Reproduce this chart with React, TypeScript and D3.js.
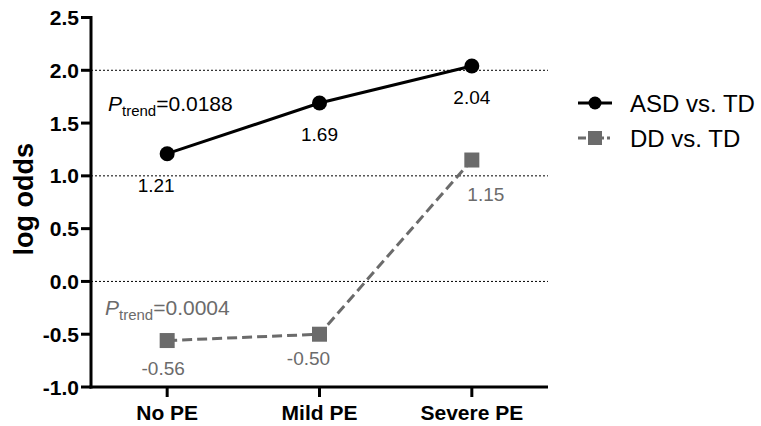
import React from "react";
import * as d3 from "d3";

const categories = ["No PE", "Mild PE", "Severe PE"];
const asdValues = [1.21, 1.69, 2.04];
const ddValues = [-0.56, -0.5, 1.15];
const yTicks = [-1.0, -0.5, 0.0, 0.5, 1.0, 1.5, 2.0, 2.5];
const gridValues = [0.0, 1.0, 2.0];
const seriesNames = ["ASD vs. TD", "DD vs. TD"];
const pTrends = ["0.0188", "0.0004"];

const W = 761;
const H = 426;
const FONT = "Liberation Sans, Arial, Helvetica, sans-serif";
const GRAY = "#6b6b6b";

export default function App() {
  const left = 91;
  const right = 548;
  const x = d3.scalePoint<string>().domain(categories).range([left, right]).padding(0.5);
  const y = d3.scaleLinear().domain([-1, 2.5]).range([387, 17.5]);
  const line = d3
    .line<number>()
    .x((_, i) => x(categories[i]) as number)
    .y((d) => y(d));

  const asdLabelOff = [
    [-11, 38],
    [0, 38],
    [0, 38],
  ];
  const ddLabelOff = [
    [-4, 34],
    [-11, 31],
    [14, 41],
  ];

  return (
    <svg width={W} height={H} style={{ position: "absolute", left: 0, top: 0, background: "#fff" }}>
      <rect width={W} height={H} fill="#fff" />
      {gridValues.map((g) => (
        <line
          key={g}
          x1={left}
          x2={right}
          y1={y(g)}
          y2={y(g)}
          stroke="#000"
          strokeWidth={1}
          strokeDasharray="2,2"
        />
      ))}
      <line x1={left} x2={left} y1={y(2.5) - 1.5} y2={y(-1) + 1.5} stroke="#000" strokeWidth={3} />
      <line x1={left - 1.5} x2={right} y1={y(-1)} y2={y(-1)} stroke="#000" strokeWidth={3} />
      {yTicks.map((t) => (
        <g key={t}>
          <line x1={left - 10} x2={left} y1={y(t)} y2={y(t)} stroke="#000" strokeWidth={3} />
          <text
            x={left - 12}
            y={y(t)}
            dy="0.36em"
            textAnchor="end"
            fontFamily={FONT}
            fontWeight="bold"
            fontSize={21}
          >
            {t.toFixed(1)}
          </text>
        </g>
      ))}
      {categories.map((c) => (
        <g key={c}>
          <line x1={x(c)} x2={x(c)} y1={y(-1)} y2={y(-1) + 10} stroke="#000" strokeWidth={3} />
          <text
            x={x(c)}
            y={y(-1) + 33}
            textAnchor="middle"
            fontFamily={FONT}
            fontWeight="bold"
            fontSize={21}
          >
            {c}
          </text>
        </g>
      ))}
      <text
        transform={`translate(33,${(y(2.5) + y(-1)) / 2 - 3}) rotate(-90)`}
        textAnchor="middle"
        fontFamily={FONT}
        fontWeight="bold"
        fontSize={27}
      >
        log odds
      </text>

      <path d={line(asdValues) || ""} fill="none" stroke="#000" strokeWidth={3} />
      {asdValues.map((v, i) => (
        <circle key={i} cx={x(categories[i])} cy={y(v)} r={7.5} fill="#000" />
      ))}
      {asdValues.map((v, i) => (
        <text
          key={"l" + i}
          x={(x(categories[i]) as number) + asdLabelOff[i][0]}
          y={y(v) + asdLabelOff[i][1]}
          textAnchor="middle"
          fontFamily={FONT}
          fontSize={19}
          fill="#000"
        >
          {v.toFixed(2)}
        </text>
      ))}

      <path d={line(ddValues) || ""} fill="none" stroke={GRAY} strokeWidth={3} strokeDasharray="10,5" />
      {ddValues.map((v, i) => (
        <rect
          key={i}
          x={(x(categories[i]) as number) - 7.5}
          y={y(v) - 7.5}
          width={15}
          height={15}
          fill={GRAY}
        />
      ))}
      {ddValues.map((v, i) => (
        <text
          key={"l" + i}
          x={(x(categories[i]) as number) + ddLabelOff[i][0]}
          y={y(v) + ddLabelOff[i][1]}
          textAnchor="middle"
          fontFamily={FONT}
          fontSize={19}
          fill={GRAY}
        >
          {v.toFixed(2)}
        </text>
      ))}

      <text x={108} y={111} fontFamily={FONT} fontSize={21} fill="#000">
        <tspan fontStyle="italic">P</tspan>
        <tspan fontSize={15} dy={5}>trend</tspan>
        <tspan dy={-5}>={pTrends[0]}</tspan>
      </text>
      <text x={105} y={315} fontFamily={FONT} fontSize={21} fill={GRAY}>
        <tspan fontStyle="italic">P</tspan>
        <tspan fontSize={15} dy={5}>trend</tspan>
        <tspan dy={-5}>={pTrends[1]}</tspan>
      </text>

      <g>
        <line x1={578} x2={612} y1={103} y2={103} stroke="#000" strokeWidth={3} />
        <circle cx={595} cy={103} r={6.5} fill="#000" />
        <text x={630} y={103} dy="0.36em" fontFamily={FONT} fontSize={24} fill="#000">
          {seriesNames[0]}
        </text>
        <line x1={578} x2={612} y1={138} y2={138} stroke={GRAY} strokeWidth={3} strokeDasharray="8,3,15,3,3,5" />
        <rect x={588} y={131} width={14} height={14} fill={GRAY} />
        <text x={630} y={138} dy="0.36em" fontFamily={FONT} fontSize={24} fill="#000">
          {seriesNames[1]}
        </text>
      </g>
    </svg>
  );
}
